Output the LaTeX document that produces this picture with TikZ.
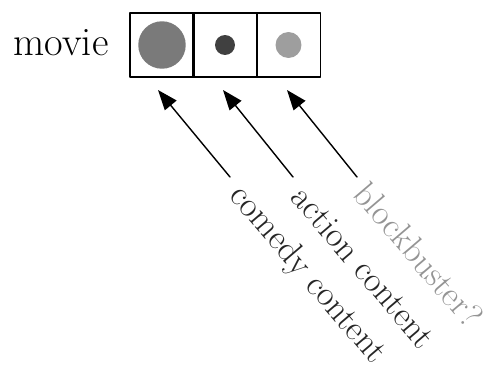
\documentclass[tikz,border=0pt]{standalone}
\usepackage{fix-cm}
\usetikzlibrary{arrows.meta}

\begin{document}
\begin{tikzpicture}[line cap=round,line join=round,x=0.02cm,y=-0.02cm,
	>={Triangle[length=0.4cm,width=0.3cm]},
	cell/.style={draw,line width=0.8pt,minimum size=1.28cm,inner sep=0pt},
	dot/.style={circle,inner sep=0pt},
	feature/.style={font=\fontsize{20}{24}\selectfont,rotate=-49.5,anchor=west,inner sep=0pt}]
	\useasboundingbox (0,0) rectangle (494,372);
	% the movie vector
	\node[font=\fontsize{23}{27}\selectfont] (movie) at (61,43) {movie};
	\node[cell] (c1) at (162,45) {};
	\node[cell] (c2) at (225,45) {};
	\node[cell] (c3) at (288.5,45) {};
	\node[dot,fill=black!52,minimum size=0.95cm] (d1) at (c1) {};
	\node[dot,fill=black!75,minimum size=0.4cm] (d2) at (c2) {};
	\node[dot,fill=black!38,minimum size=0.52cm] (d3) at (c3) {};
	% feature labels
	\coordinate (t1) at (158,90);
	\coordinate (t2) at (223,90);
	\coordinate (t3) at (287,90);
	\coordinate (s1) at (230,177);
	\coordinate (s2) at (293,177);
	\coordinate (s3) at (357,177);
	\node[feature,text=black!85] (l1) at (235,191) {comedy content};
	\node[feature,text=black!85] (l2) at (298,191) {action content};
	\node[feature,text=black!42] (l3) at (361,187) {blockbuster?};
	\draw[->,line width=0.8pt] (s1) -- (t1);
	\draw[->,line width=0.8pt] (s2) -- (t2);
	\draw[->,line width=0.8pt] (s3) -- (t3);
\end{tikzpicture}
\end{document}
